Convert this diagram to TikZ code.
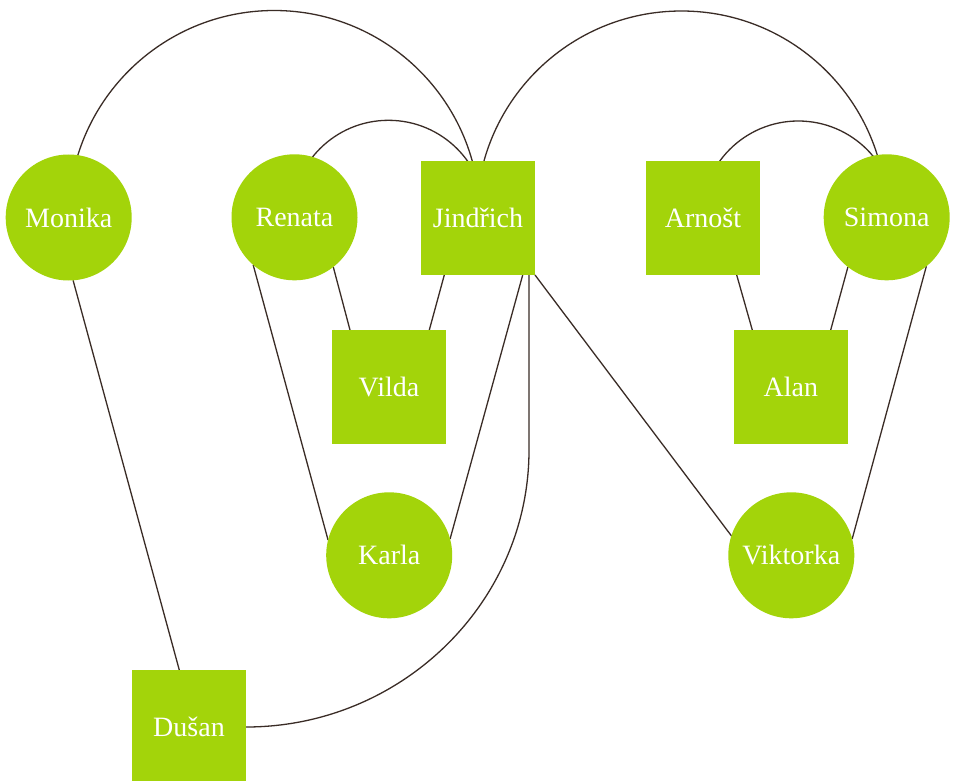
\documentclass[tikz,border=0pt]{standalone}
\usepackage{fontspec}
\setmainfont{Liberation Serif}
\usetikzlibrary{backgrounds}
\definecolor{leaf}{HTML}{A3D40A}
\definecolor{edgecol}{HTML}{3A2C26}
\begin{document}
\begin{tikzpicture}[x=1pt,y=1pt,
  person/.style={fill=leaf, draw=none, text=white, inner sep=0pt, outer sep=0pt, font=\fontsize{28}{32}\selectfont},
  circ/.style={person, circle, minimum size=126pt},
  sq/.style={person, rectangle, minimum size=114pt},
  link/.style={draw=edgecol, line width=1.3pt}]
\useasboundingbox (0,0) rectangle (956,-781);
\node[circ] (monika) at (68.7,-217.5) {Monika};
\node[circ] (renata) at (294.5,-217.3) {Renata};
\node[sq] (jindrich) at (478,-218) {Jindřich};
\node[sq] (arnost) at (703,-218) {Arnošt};
\node[circ] (simona) at (886.7,-217.3) {Simona};
\node[sq] (vilda) at (389,-387) {Vilda};
\node[sq] (alan) at (790.8,-387) {Alan};
\node[circ] (karla) at (389.2,-555.3) {Karla};
\node[circ] (viktorka) at (791.3,-555.3) {Viktorka};
\node[sq] (dusan) at (189,-727) {Dušan};
\begin{scope}[on background layer]
\fill[white] (0,0) rectangle (956,-781);
\draw[link] ([yshift=1.5pt]monika.center) arc[start angle=180,end angle=0,radius=205.5];
\draw[link] ([xshift=-3pt]renata.center) arc[start angle=180,end angle=0,radius=97];
\draw[link] ([xshift=-1.5pt,yshift=2pt]jindrich.center) arc[start angle=180,end angle=0,radius=205];
\draw[link] ([xshift=-1.7pt]arnost.center) arc[start angle=180,end angle=0,radius=97];
\draw[link] (monika.-86) -- ([xshift=-9.7pt]dusan.north);
\draw[link] (renata.-52) -- ([xshift=-39pt]vilda.north);
\draw[link] (renata.-131) -- (karla.166);
\draw[link] ([xshift=-33.7pt]jindrich.south) -- ([xshift=40.3pt]vilda.north);
\draw[link] ([xshift=44.7pt]jindrich.south) -- (karla.15);
\draw[link] ([xshift=51pt]jindrich.south) -- ++(0,-175) to[out=-90,in=0,out distance=152pt,in distance=156pt] (dusan.east);
\draw[link] (jindrich.south east) -- (viktorka.162);
\draw[link] ([xshift=33.7pt]arnost.south) -- ([xshift=-38.5pt]alan.north);
\draw[link] (simona.-128) -- ([xshift=39.9pt]alan.north);
\draw[link] (simona.-51) -- (viktorka.15);
\end{scope}
\end{tikzpicture}
\end{document}
